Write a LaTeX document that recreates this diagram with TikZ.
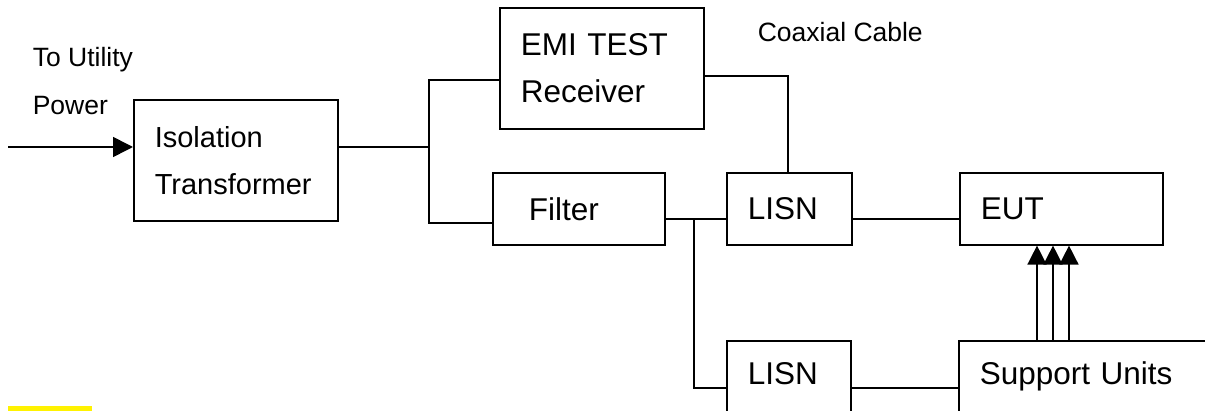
\documentclass[tikz,border=0pt]{standalone}
\usepackage{fontspec}
\setmainfont{Liberation Sans}
\usetikzlibrary{arrows.meta}

\begin{document}
\begin{tikzpicture}[x=1pt,y=-1pt,line width=1.6pt,
    bloc/.style={draw,anchor=north west,align=left,inner xsep=21pt,inner ysep=0pt,
      font=\fontsize{31.5}{47}\selectfont},
    petit/.style={align=left,inner sep=0pt,font=\fontsize{26.5}{48}\selectfont},
    fleche/.style={-{Triangle[length=20pt,width=20pt]}},
    flechette/.style={-{Triangle[length=19pt,width=19pt]}}]
  \useasboundingbox (0,0) rectangle (1205,411);

  % Blocs
  \node[bloc,font=\fontsize{29}{47}\selectfont,text width=162pt,minimum height=121pt] (iso) at (133,99) {Isolation\\Transformer};
  \node[bloc,text width=162pt,minimum height=121pt] (emi) at (499,7) {EMI TEST\\Receiver};
  \node[bloc,inner xsep=36pt,text width=100pt,minimum height=72pt] (filt) at (492,172) {Filter};
  \node[bloc,text width=83pt,minimum height=72pt] (lisnA) at (726,172) {LISN};
  \node[bloc,text width=161pt,minimum height=72pt] (eut) at (959,172) {EUT};
  \node[bloc,text width=82pt,text height=44pt,text depth=80pt] (lisnB) at (726,340) {LISN};
  \node[bloc,text width=260pt,text height=44pt,text depth=80pt] (sup) at (958,340) {Support Units};

  % Textes
  \node[petit,anchor=north west] (util) at (32,47) {To Utility\\Power};
  \node[petit,anchor=base west] (coax) at (757,42) {Coaxial Cable};

  % Liaisons
  \coordinate (in) at (8,147);
  \coordinate (bt) at (429,80);
  \coordinate (bb) at (429,223);
  \coordinate (j) at (694,219);
  \coordinate (jb) at (694,388);
  \coordinate (cx) at (788,76);

  \draw[fleche] (in) -- (in -| iso.west);
  \draw (in -| iso.east) -- (in -| bt);
  \draw (bt -| emi.west) -- (bt) -- (bb) -- (bb -| filt.west);
  \draw (cx -| emi.east) -- (cx) -- (cx |- lisnA.north);
  \draw (j -| filt.east) -- (j -| lisnA.west);
  \draw (j -| lisnA.east) -- (j -| eut.west);
  \draw (j) -- (jb) -- (jb -| lisnB.west);
  \draw (jb -| lisnB.east) -- (jb -| sup.west);
  \foreach \x in {1037,1053,1069} {
    \coordinate (a) at (\x,0);
    \draw[flechette] (a |- sup.north) -- (a |- eut.south);
  }

  \fill[yellow] (8,406) rectangle (92,415);
\end{tikzpicture}
\end{document}
